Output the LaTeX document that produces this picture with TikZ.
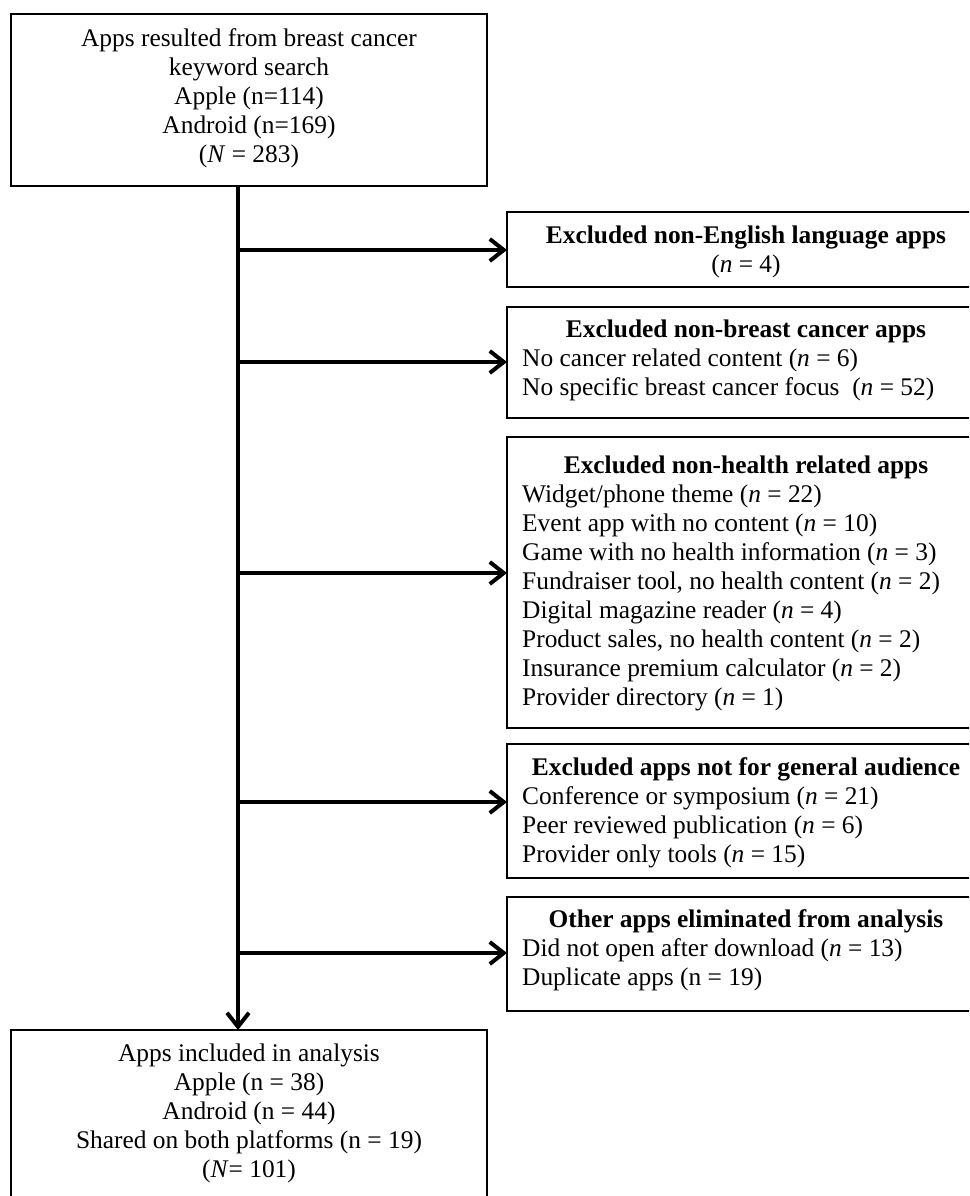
\documentclass[tikz,border=0pt]{standalone}
\usepackage{fontspec}
\setmainfont{Liberation Serif}
\usetikzlibrary{arrows.meta}
\begin{document}
\begin{tikzpicture}[x=1pt,y=-1pt,
  box/.style={draw, line width=1.8pt, rectangle, anchor=north west, inner sep=0pt, outer sep=0pt},
  flowarrow/.style={line width=4pt, -{Straight Barb[length=14pt,width=22pt]}},
  txt/.style={inner sep=0pt, font=\fontsize{25.4}{29}\selectfont},
  head/.style={txt, anchor=base, font=\fontsize{25.4}{29}\selectfont\bfseries},
  lst/.style={txt, anchor=base west},
  ctr/.style={txt, anchor=base},
]
\useasboundingbox (0,0) rectangle (969,1196);
\clip (0,0) rectangle (969,1196);
\fill[white] (0,0) rectangle (969,1196);

% boxes
\node[box, minimum width=476pt, minimum height=172pt] (top) at (11,14) {};
\node[box, minimum width=476pt, minimum height=180pt] (bot) at (11,1030) {};
\node[box, minimum width=478pt, minimum height=75pt]  (ex1) at (507,212) {};
\node[box, minimum width=478pt, minimum height=111pt] (ex2) at (507,307) {};
\node[box, minimum width=478pt, minimum height=291pt] (ex3) at (507,437) {};
\node[box, minimum width=478pt, minimum height=134pt] (ex4) at (507,744) {};
\node[box, minimum width=478pt, minimum height=114pt] (ex5) at (507,897) {};

% texts
\node[ctr] (toptxt) at (249,47) {\begin{tabular}[t]{@{}c@{}}Apps resulted from breast cancer\\keyword search\\Apple (n=114)\\Android (n=169)\\(\textit{N} = 283)\end{tabular}};
\node[ctr] (bottxt) at (249,1061) {\begin{tabular}[t]{@{}c@{}}Apps included in analysis\\Apple (n = 38)\\Android (n = 44)\\Shared on both platforms (n = 19)\\(\textit{N}= 101)\end{tabular}};

\node[head] (h1) at (746,243) {Excluded non-English language apps};
\node[ctr] (l1) at (746,272) {(\textit{n} = 4)};

\node[head] (h2) at (746,337) {Excluded non-breast cancer apps};
\node[lst] (l2) at (522,366) {\begin{tabular}[t]{@{}l@{}}No cancer related content (\textit{n} = 6)\\No specific breast cancer focus\ \ (\textit{n} = 52)\end{tabular}};

\node[head] (h3) at (746,473) {Excluded non-health related apps};
\node[lst] (l3) at (522,502) {\begin{tabular}[t]{@{}l@{}}Widget/phone theme (\textit{n} = 22)\\Event app with no content (\textit{n} = 10)\\Game with no health information (\textit{n} = 3)\\Fundraiser tool, no health content (\textit{n} = 2)\\Digital magazine reader (\textit{n} = 4)\\Product sales, no health content (\textit{n} = 2)\\Insurance premium calculator (\textit{n} = 2)\\Provider directory (\textit{n} = 1)\end{tabular}};

\node[head] (h4) at (746,775) {Excluded apps not for general audience};
\node[lst] (l4) at (522,804) {\begin{tabular}[t]{@{}l@{}}Conference or symposium (\textit{n} = 21)\\Peer reviewed publication (\textit{n} = 6)\\Provider only tools (\textit{n} = 15)\end{tabular}};

\node[head] (h5) at (746,927) {Other apps eliminated from analysis};
\node[lst] (l5) at (522,956) {\begin{tabular}[t]{@{}l@{}}Did not open after download (\textit{n} = 13)\\Duplicate apps (n = 19)\end{tabular}};

% connectors
\coordinate (t0) at (238,186);
\coordinate (j1) at (238,250);
\coordinate (j2) at (238,362);
\coordinate (j3) at (238,573);
\coordinate (j4) at (238,802);
\coordinate (j5) at (238,953);
\draw[flowarrow] (t0) -- (t0 |- bot.north);
\draw[flowarrow] (j1) -- (j1 -| ex1.west);
\draw[flowarrow] (j2) -- (j2 -| ex2.west);
\draw[flowarrow] (j3) -- (j3 -| ex3.west);
\draw[flowarrow] (j4) -- (j4 -| ex4.west);
\draw[flowarrow] (j5) -- (j5 -| ex5.west);
\end{tikzpicture}
\end{document}
